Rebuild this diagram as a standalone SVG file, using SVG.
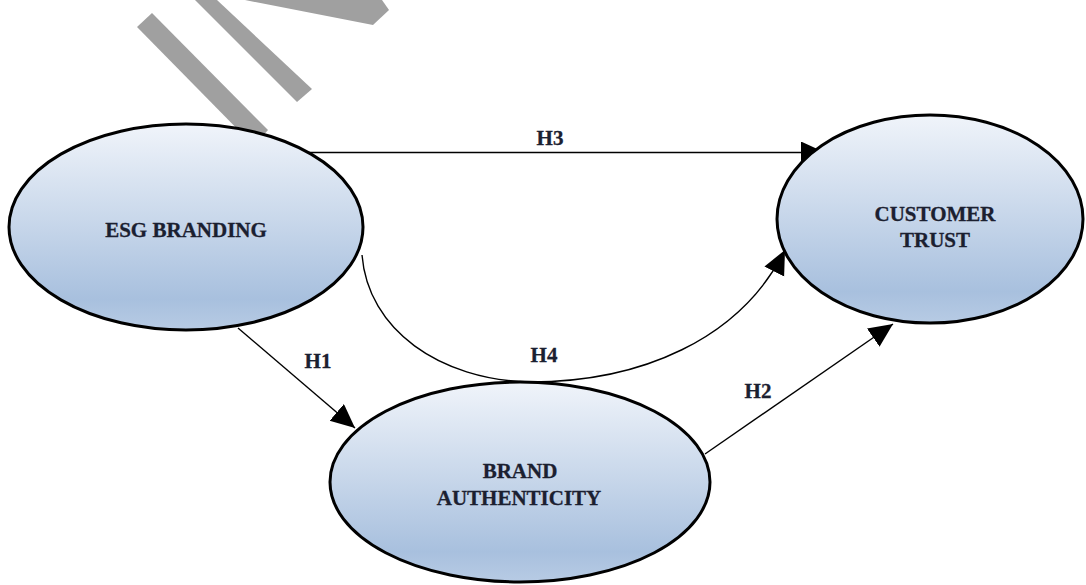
<svg xmlns="http://www.w3.org/2000/svg" width="1086" height="585" viewBox="0 0 1086 585">
  <defs>
    <linearGradient id="fillGrad" x1="0" y1="0" x2="0" y2="1">
      <stop offset="0" stop-color="#f0f4fa"/>
      <stop offset="0.85" stop-color="#a8c0de"/>
      <stop offset="1" stop-color="#b7cbe4"/>
    </linearGradient>
    <marker id="arrow" markerUnits="userSpaceOnUse" markerWidth="26" markerHeight="24" refX="24" refY="11" orient="auto">
      <path d="M0,0 L24,11 L0,22 Z" fill="#000"/>
    </marker>
  </defs>
  <style>
    .node ellipse { fill: url(#fillGrad); stroke: #000; stroke-width: 3; }
    .lbl { font-family: "Liberation Serif", "DejaVu Serif", serif; font-weight: bold; font-size: 21px; fill: #1b2030; stroke: #1b2030; stroke-width: 0.3; text-anchor: middle; }
    .edge { fill: none; stroke: #000; stroke-width: 1.4; }
    .wm { fill: #a0a0a0; }
  </style>
  <rect width="1086" height="585" fill="#fff"/>

  <g id="watermark">
    <polygon class="wm" points="137,27 152,13 268,130 254,146"/>
    <polygon class="wm" points="195,0 217,0 312,89 297,102"/>
    <polygon class="wm" points="245,0 382,0 389,10 373,25"/>
  </g>

  <g id="connectors">
    <path class="edge" d="M308,152.5 L825,152.5" marker-end="url(#arrow)"/>
    <path class="edge" d="M238,328 L355,428" marker-end="url(#arrow)"/>
    <path class="edge" d="M705,454 L893,324" marker-end="url(#arrow)"/>
    <path class="edge" d="M362,255 C368,330 440,380 530,382 C640,382 740,340 785,250" marker-end="url(#arrow)"/>
    <text class="lbl" x="550" y="145">H3</text>
    <text class="lbl" x="318" y="368">H1</text>
    <text class="lbl" x="544" y="362">H4</text>
    <text class="lbl" x="758" y="398">H2</text>
  </g>

  <g id="node-esg" class="node">
    <ellipse cx="186" cy="227" rx="177" ry="103"/>
    <text class="lbl" x="186" y="237">ESG BRANDING</text>
  </g>

  <g id="node-trust" class="node">
    <ellipse cx="930" cy="219" rx="153" ry="104"/>
    <text class="lbl" x="935" y="221">CUSTOMER</text>
    <text class="lbl" x="935" y="247">TRUST</text>
  </g>

  <g id="node-authenticity" class="node">
    <ellipse cx="520" cy="482" rx="190" ry="100"/>
    <text class="lbl" x="520" y="478">BRAND</text>
    <text class="lbl" x="519" y="505">AUTHENTICITY</text>
  </g>
</svg>
